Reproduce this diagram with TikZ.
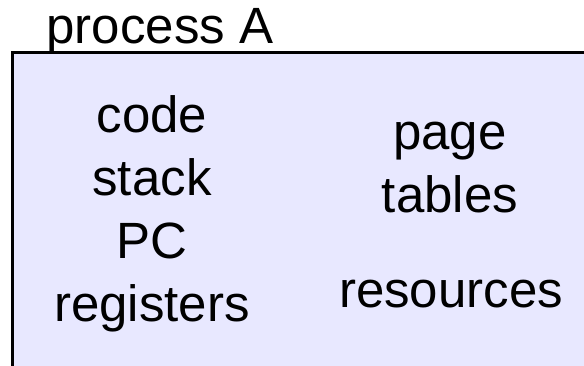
\documentclass[tikz,border=0pt]{standalone}
\usepackage{fontspec}
\setmainfont{Liberation Sans}
\definecolor{procfill}{RGB}{232,232,255}
\begin{document}
\begin{tikzpicture}[
  x=1pt, y=-1pt,
  word/.style={inner sep=0pt, text height=37pt, text depth=11pt, font=\fontsize{51}{63}\selectfont},
  procbox/.style={draw, fill=procfill, line width=3pt},
  node distance=63pt
]
\useasboundingbox (0,0) rectangle (584,365);
\clip (0,0) rectangle (584,365);

% Process box
\draw[procbox] (12,52.5) rectangle (620,400);

% Title
\node[word] (title) at (160,30) {process A};

% Left column
\node[word] (code) at (152,119) {code};
\node[word, below of=code] (stack) {stack};
\node[word, below of=stack] (pc) {PC};
\node[word, below of=pc] (regs) {registers};

% Right column
\node[word] (page) at (450,136) {page};
\node[word, below of=page] (tables) {tables};
\node[word] (res) at (451,294) {resources};
\end{tikzpicture}
\end{document}
